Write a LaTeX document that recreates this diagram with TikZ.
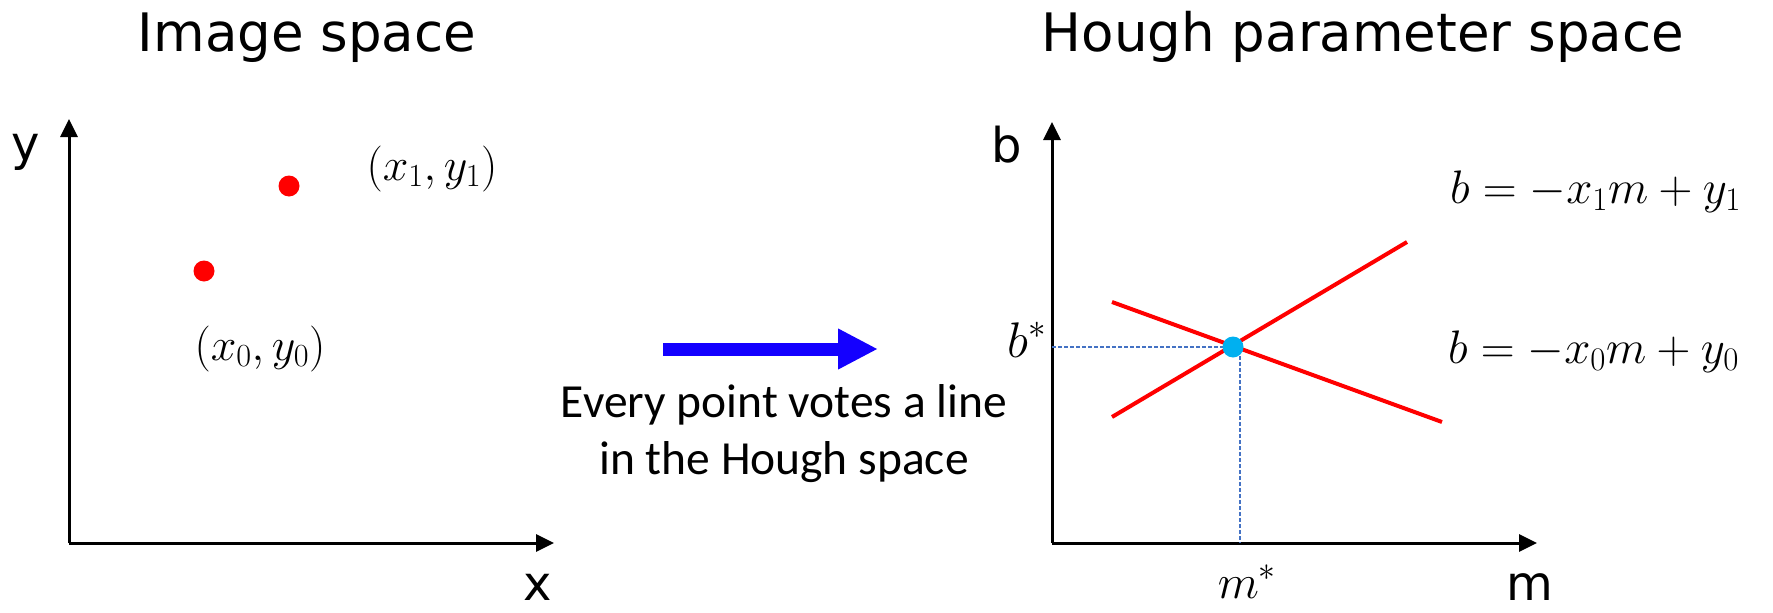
\RequirePackage{fix-cm}
\documentclass[tikz,border=0pt]{standalone}
\usepackage{fontspec}
\newfontfamily\vfont{DejaVu Sans}
\newfontfamily\cfont{Carlito}
\usetikzlibrary{arrows.meta}
\definecolor{hred}{RGB}{255,0,0}
\definecolor{hcyan}{RGB}{0,176,240}
\definecolor{hdash}{RGB}{68,114,196}
\definecolor{harrow}{RGB}{20,0,255}
\begin{document}
\begin{tikzpicture}[x=1pt,y=-1pt,
  title/.style={font=\vfont\fontsize{53}{63}\selectfont, anchor=base, inner sep=0pt},
  axlabel/.style={font=\vfont\fontsize{48}{58}\selectfont, anchor=base, inner sep=0pt},
  mathlbl/.style={font=\fontsize{46}{55}\selectfont, inner sep=0pt},
  eqlbl/.style={font=\fontsize{47}{57}\selectfont, inner sep=0pt, anchor=base west},
  midtext/.style={font=\cfont\fontsize{47.5}{57}\selectfont, anchor=base, inner sep=0pt},
  axisline/.style={line width=3pt, -{Triangle[length=18pt,width=17pt]}},
  votel/.style={hred, line width=4pt},
  guide/.style={hdash, line width=1.6pt, dash pattern=on 4pt off 2pt},
  reddot/.style={circle, fill=hred, inner sep=0pt, minimum size=21pt},
  bluedot/.style={circle, fill=hcyan, inner sep=0pt, minimum size=21pt}]
\useasboundingbox (0,0) rectangle (1773,613);

% titles
\node[title] (t1) at (307,51) {Image space};
\node[title] (t2) at (1363,51) {Hough parameter space};

% left axes
\coordinate (O1) at (69,543);
\coordinate (Y1) at (69,119);
\coordinate (X1) at (554,543);
\draw[axisline] (O1) -- (Y1);
\draw[axisline] (O1) -- (X1);
\node[axlabel] (ylab) at (26,160) {y};
\node[axlabel] (xlab) at (538,600) {x};

% points
\node[reddot] (p1) at (289,186) {};
\node[reddot] (p0) at (204,271) {};
\node[mathlbl, anchor=base] (p1lbl) at (432,180) {$(x_1,y_1)$};
\node[mathlbl, anchor=base] (p0lbl) at (260,360) {$(x_0,y_0)$};

% middle arrow
\coordinate (aS) at (663,349);
\coordinate (aE) at (878,349);
\draw[harrow, line width=13pt, -{Triangle[length=40pt,width=38pt]}] (aS) -- (aE);
\node[midtext] (m1) at (784,417) {Every point votes a line};
\node[midtext] (m2) at (784,474) {in the Hough space};

% right axes
\coordinate (O2) at (1052,543);
\coordinate (B2) at (1052,122);
\coordinate (M2) at (1537,543);
\draw[axisline] (O2) -- (B2);
\draw[axisline] (O2) -- (M2);
\node[axlabel] (blab) at (1007,162) {b};
\node[axlabel] (mlab) at (1530,600) {m};

% vote lines
\coordinate (r1a) at (1112,417);
\coordinate (r1b) at (1407,242);
\coordinate (r0a) at (1112,302);
\coordinate (r0b) at (1442,422);
\coordinate (bax) at (1052,347);
\coordinate (hend) at (1233,347);
\coordinate (vtop) at (1240,350);
\coordinate (vbot) at (1240,543);
\draw[guide] (bax) -- (hend);
\draw[guide] (vtop) -- (vbot);
\draw[votel] (r1a) -- (r1b);
\draw[votel] (r0a) -- (r0b);
\node[bluedot] (ix) at (1233,347) {};

\node[mathlbl, font=\fontsize{50}{60}\selectfont, anchor=base east] (bstar) at (1047,357) {$b^*$};
\node[mathlbl, font=\fontsize{48}{58}\selectfont, anchor=base] (mstar) at (1247,598) {$m^*$};

\node[eqlbl] (eq1) at (1450,203) {$b=-x_1m+y_1$};
\node[eqlbl] (eq0) at (1448,363) {$b=-x_0m+y_0$};
\end{tikzpicture}
\end{document}
